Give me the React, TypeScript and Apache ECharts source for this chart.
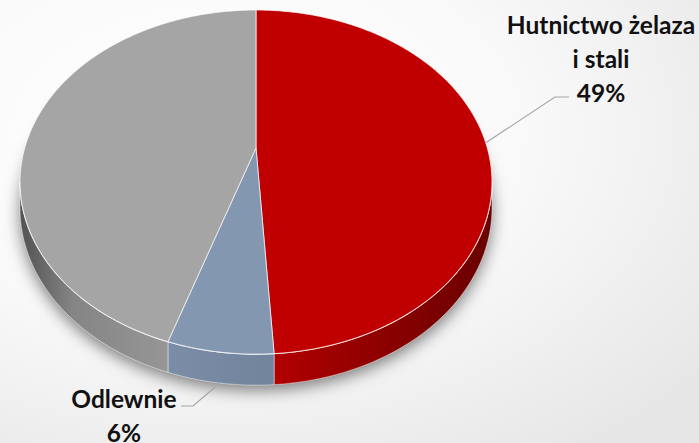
import { useEffect, useRef } from "react";
import * as echarts from "echarts";

// ---- data ----
const categories = ["Hutnictwo żelaza i stali", "Odlewnie", "Pozostałe"];
const labelNames = ["Hutnictwo żelaza\ni stali", "Odlewnie", ""];
const values = [49, 6, 45];
const percentLabels = ["49%", "6%", ""];

// ---- styles / layout ----
const topColors = ["#C00000", "#8497B0", "#A5A5A5"];
const wallStops = [
  [
    [0, "#b00000"],
    [1, "#680000"],
  ],
  [
    [0, "#7a8ca6"],
    [1, "#72839c"],
  ],
  [
    [0, "#4f4f4f"],
    [0.35, "#858585"],
    [1, "#979797"],
  ],
];
const wallGradX = [
  [278, 493],
  [172, 278],
  [18, 175],
];
const labelLayout = [
  { tx: 601, ty: 7, elbow: [555, 97], end: [569, 97], bottom: false },
  { tx: 124, ty: 381, elbow: [193, 406], end: [181, 406], bottom: true },
  null,
];

const G = { cx: 256, cy: 148, A: 231.3, B: 165.3, k: 0.198, D: 24.9 };
const total = values.reduce((a, b) => a + b, 0);
const starts: number[] = [];
values.reduce((acc, v) => {
  starts.push(acc);
  return acc + v;
}, 0);

function proj(phiDeg: number, depth = 0): number[] {
  const p = (phiDeg * Math.PI) / 180;
  const u = Math.sin(p);
  const v = -Math.cos(p);
  const s = 1 / (1 - G.k * v);
  return [G.cx + G.A * u * s, G.cy + (G.B * v + depth) * s];
}
const visLo = (Math.acos(-G.k) * 180) / Math.PI;
const visHi = 360 - visLo;

function arcPts(a0: number, a1: number, depth: number): number[][] {
  const pts: number[][] = [];
  const n = Math.max(2, Math.ceil((a1 - a0) / 1));
  for (let j = 0; j <= n; j++) pts.push(proj(a0 + ((a1 - a0) * j) / n, depth));
  return pts;
}

export default function App() {
  const ref = useRef<HTMLDivElement>(null);
  useEffect(() => {
    if (!ref.current) return;
    const chart = echarts.init(ref.current, null, { renderer: "svg" });
    const data = values.map((v, i) => ({ name: categories[i], value: [v, starts[i]] }));

    const angleOf = (api: any) => {
      const v = api.value(0) as number;
      const s = api.value(1) as number;
      return [(s / total) * 360, ((s + v) / total) * 360];
    };

    chart.setOption({
      animation: false,
      backgroundColor: new echarts.graphic.RadialGradient(0.3, 0.3, 0.9, [
        { offset: 0, color: "#ffffff" },
        { offset: 0.5, color: "#f9f9f9" },
        { offset: 1, color: "#e6e6e6" },
      ]),
      series: [
        {
          type: "custom",
          coordinateSystem: "none",
          z: 1,
          silent: true,
          data: [[0]],
          renderItem: () => ({
            type: "polygon",
            shape: { points: arcPts(0, 360, G.D) },
            style: {
              fill: "#888",
              shadowBlur: 16,
              shadowColor: "rgba(0,0,0,0.5)",
              shadowOffsetY: 5,
            },
          }),
        },
        {
          type: "custom",
          coordinateSystem: "none",
          z: 2,
          data,
          renderItem: (params: any, api: any) => {
            const i = params.dataIndex;
            const [a0, a1] = angleOf(api);
            const lo = Math.max(a0, visLo);
            const hi = Math.min(a1, visHi);
            if (hi <= lo) return { type: "group", children: [] };
            const top = arcPts(lo, hi, 0);
            const bot = arcPts(lo, hi, G.D).reverse();
            const stops = wallStops[i].map((s) => ({ offset: s[0] as number, color: s[1] as string }));
            return {
              type: "group",
              children: [
                {
                  type: "polygon",
                  shape: { points: top.concat(bot) },
                  style: {
                    fill: new echarts.graphic.LinearGradient(wallGradX[i][0], 0, wallGradX[i][1], 0, stops, true),
                    stroke: "rgba(255,255,255,0.55)",
                    lineWidth: 0.8,
                  },
                },
                {
                  type: "polyline",
                  shape: { points: top },
                  style: { stroke: "rgba(255,255,255,0.75)", lineWidth: 1.2, fill: "none" },
                },
              ],
            };
          },
        },
        {
          type: "custom",
          coordinateSystem: "none",
          z: 3,
          data,
          renderItem: (params: any, api: any) => {
            const i = params.dataIndex;
            const [a0, a1] = angleOf(api);
            const pts = [[G.cx, G.cy]].concat(arcPts(a0, a1, 0));
            return {
              type: "polygon",
              shape: { points: pts },
              style: { fill: topColors[i], stroke: "rgba(255,255,255,0.7)", lineWidth: 1 },
            };
          },
        },
        {
          type: "custom",
          coordinateSystem: "none",
          z: 4,
          data,
          renderItem: (params: any, api: any) => {
            const i = params.dataIndex;
            const L = labelLayout[i];
            if (!L) return { type: "group", children: [] };
            const [a0, a1] = angleOf(api);
            const mid = (a0 + a1) / 2;
            const start = proj(mid, L.bottom ? G.D : 0);
            return {
              type: "group",
              children: [
                {
                  type: "polyline",
                  shape: { points: [start, L.elbow, L.end] },
                  style: { stroke: "#a6a6a6", lineWidth: 1.2, fill: "none" },
                },
                {
                  type: "text",
                  style: {
                    text: labelNames[i] + "\n" + percentLabels[i],
                    x: L.tx,
                    y: L.ty,
                    fill: "#111111",
                    fontFamily: "Lato",
                    fontWeight: "bold",
                    fontSize: 24.5,
                    lineHeight: 34,
                    align: "center",
                    verticalAlign: "top",
                  },
                },
              ],
            };
          },
        },
      ],
    });
    return () => chart.dispose();
  }, []);
  return <div ref={ref} style={{ position: "absolute", left: 0, top: 0, width: 699, height: 443 }} />;
}
